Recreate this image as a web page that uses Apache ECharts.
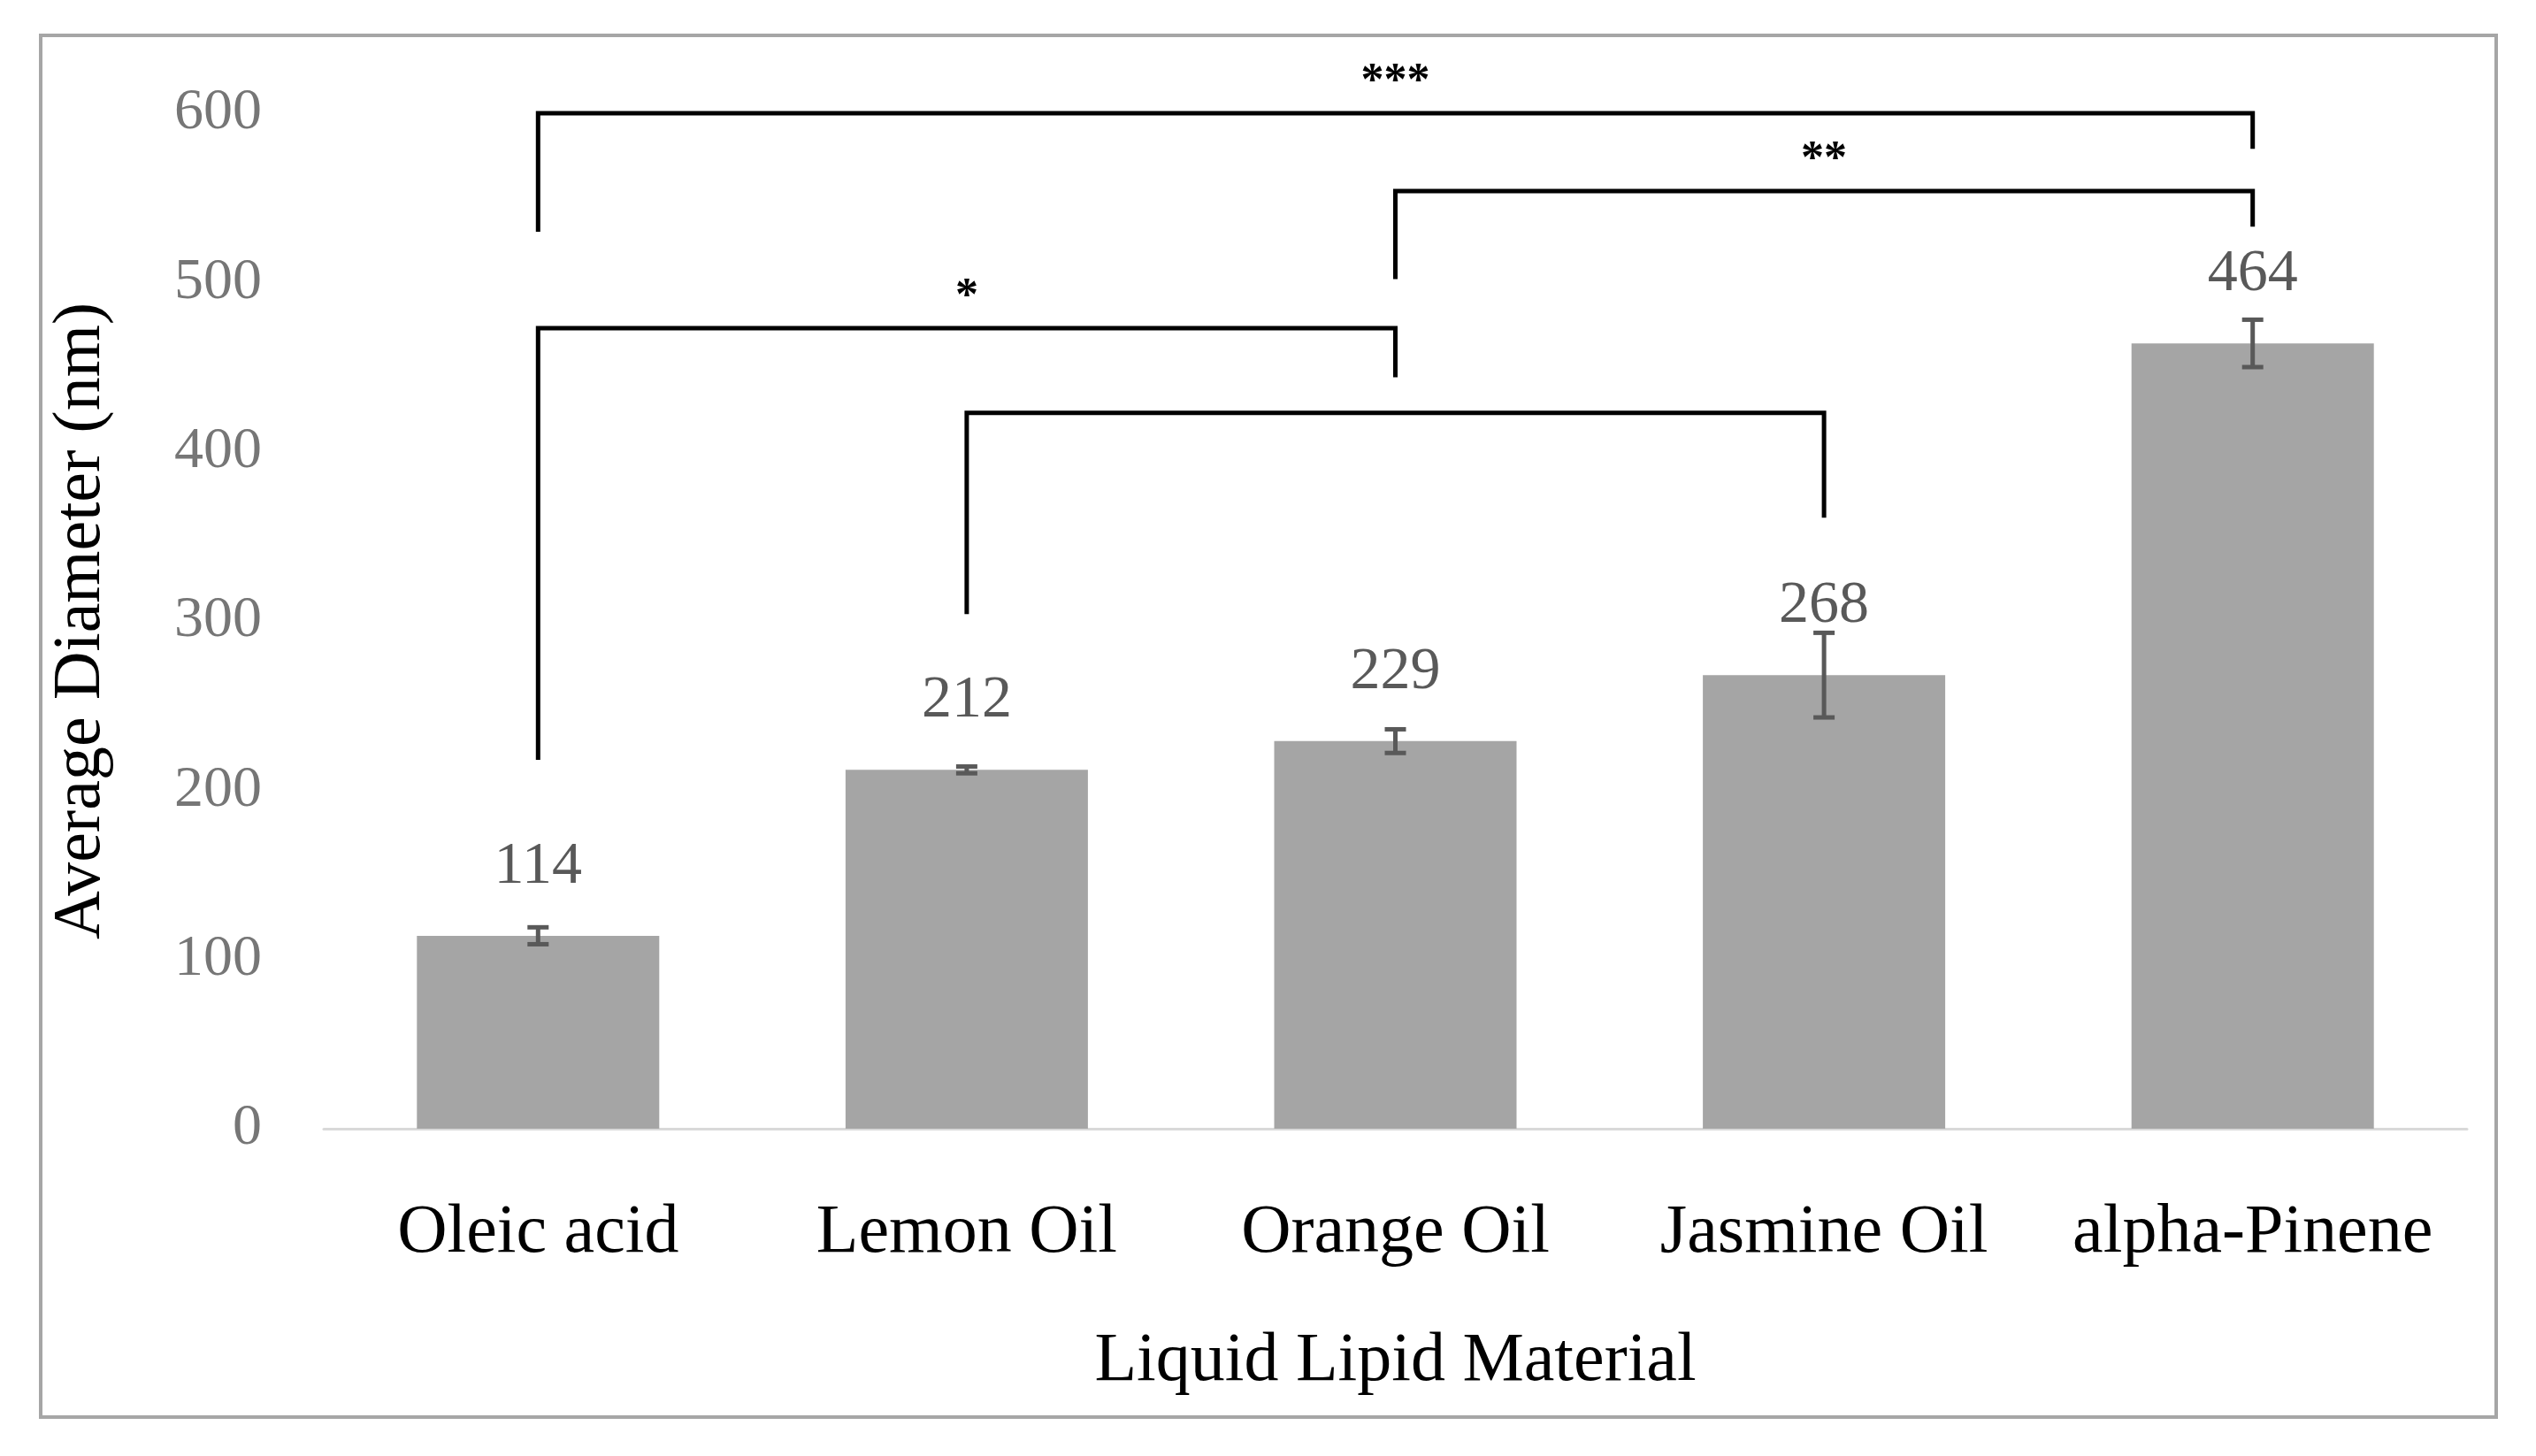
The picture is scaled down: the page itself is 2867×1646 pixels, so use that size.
<!DOCTYPE html>
<html><head><meta charset="utf-8">
<script src="https://cdn.jsdelivr.net/npm/echarts@6/dist/echarts.min.js"></script>
<style>html,body{margin:0;background:#fff}#c{width:2867px;height:1646px}</style>
</head><body><div id="c"></div>
<script>
var categories = ['Oleic acid', 'Lemon Oil', 'Orange Oil', 'Jasmine Oil', 'alpha-Pinene'];
var diameters = [114, 212, 229, 268, 464];
var errors = [5, 2, 7, 25, 14];
// [leftIdx, rightIdx, topY, leftLegY, rightLegY, label]
var brackets = [
  [0, 4, 600, 530, 579, '***'],
  [2, 4, 554, 502, 533, '**'],
  [0, 2, 473, 218, 444, '*'],
  [1, 3, 423, 304, 361, '']
];
var serif = 'Liberation Serif';
var chart = echarts.init(document.getElementById('c'));
chart.setOption({
  backgroundColor: '#fff',
  animation: false,
  graphic: [{type: 'rect', shape: {x: 46, y: 40, width: 2776, height: 1562},
    style: {fill: 'none', stroke: '#a6a6a6', lineWidth: 4}}],
  grid: {left: 366, right: 78, top: 128, bottom: 370},
  xAxis: {
    type: 'category', data: categories,
    axisLine: {lineStyle: {color: '#d9d9d9', width: 3}},
    axisTick: {show: false},
    axisLabel: {interval: 0, color: '#000', fontFamily: serif, fontSize: 78, margin: 80},
    name: 'Liquid Lipid Material', nameLocation: 'middle', nameGap: 225,
    nameTextStyle: {color: '#000', fontFamily: serif, fontSize: 78}
  },
  yAxis: {
    type: 'value', min: 0, max: 600, interval: 100,
    splitLine: {show: false}, axisLine: {show: false}, axisTick: {show: false},
    axisLabel: {color: '#767676', fontFamily: serif, fontSize: 66, margin: 70},
    name: 'Average Diameter (nm)', nameLocation: 'middle', nameGap: 236,
    nameTextStyle: {color: '#000', fontFamily: serif, fontSize: 76}
  },
  series: [{
    type: 'bar', data: diameters, barWidth: 274,
    itemStyle: {color: '#a5a5a5'},
    label: {show: true, position: 'top', distance: 44, color: '#595959', fontFamily: serif, fontSize: 68}
  }, {
    type: 'custom',
    data: diameters.map(function (v, i) { return [i, v - errors[i], v + errors[i]]; }),
    renderItem: function (params, api) {
      var lo = api.coord([api.value(0), api.value(1)]);
      var hi = api.coord([api.value(0), api.value(2)]);
      var w = 12, st = {stroke: '#595959', lineWidth: 5};
      return {type: 'group', children: [
        {type: 'line', shape: {x1: lo[0], y1: lo[1], x2: hi[0], y2: hi[1]}, style: st},
        {type: 'line', shape: {x1: lo[0] - w, y1: lo[1], x2: lo[0] + w, y2: lo[1]}, style: st},
        {type: 'line', shape: {x1: hi[0] - w, y1: hi[1], x2: hi[0] + w, y2: hi[1]}, style: st}
      ]};
    }, z: 5
  }, {
    type: 'custom',
    data: brackets,
    renderItem: function (params, api) {
      var a = api.coord([api.value(0), api.value(2)]);
      var b = api.coord([api.value(1), api.value(2)]);
      var la = api.coord([api.value(0), api.value(3)]);
      var lb = api.coord([api.value(1), api.value(4)]);
      var st = {stroke: '#000', lineWidth: 5, fill: 'none'};
      return {type: 'group', children: [
        {type: 'polyline', shape: {points: [[la[0], la[1]], a, b, [lb[0], lb[1]]]}, style: st},
        {type: 'text', x: (a[0] + b[0]) / 2, y: a[1] - 8,
          style: {text: brackets[params.dataIndex][5], fill: '#000', font: 'bold 52px ' + serif,
            align: 'center', verticalAlign: 'bottom'}}
      ]};
    }, z: 6
  }]
});
</script></body></html>
